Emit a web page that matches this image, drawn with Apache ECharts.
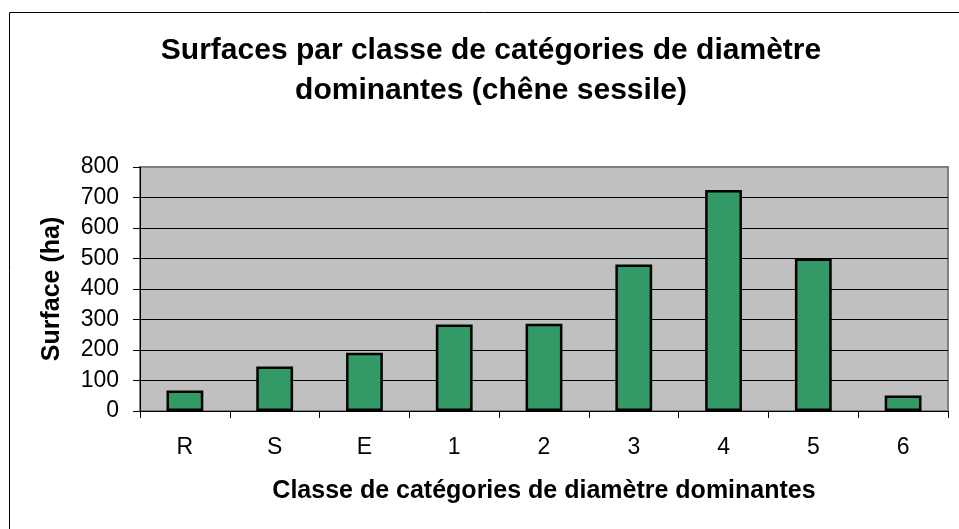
<!DOCTYPE html>
<html>
<head>
<meta charset="utf-8">
<script src="https://cdn.jsdelivr.net/npm/echarts@6/dist/echarts.min.js"></script>
<style>
  html, body { margin: 0; padding: 0; background: #fff; }
  #chart { width: 959px; height: 529px; }
</style>
</head>
<body>
<div id="chart"></div>
<script>
// Diameter classes (R, S, E, then 1 to 6)
var categories = ['R', 'S', 'E', '1', '2', '3', '4', '5', '6'];
// Area of each class, in hectares
var surfaces = [67, 146, 191, 284, 286, 480, 725, 500, 51];
// Value axis range
var yMin = 0, yMax = 800, yStep = 100;

var FONT = '"Liberation Sans", Arial, sans-serif';

var chart = echarts.init(document.getElementById('chart'), null, { renderer: 'canvas' });

// gridline colours: black inside, grey on the upper frame edge
var splitColors = [];
for (var v = yMin; v <= yMax; v += yStep) splitColors.push(v === yMax ? '#808080' : '#000000');

chart.setOption({
  backgroundColor: '#ffffff',
  animation: false,
  title: {
    text: 'Surfaces par classe de catégories de diamètre\ndominantes (chêne sessile)',
    left: 486,
    top: 26,
    textAlign: 'center',
    textStyle: {
      fontFamily: FONT,
      fontSize: 30,
      fontWeight: 'bold',
      color: '#000',
      lineHeight: 40
    }
  },
  graphic: [{
    type: 'rect',
    shape: { x: 9.5, y: 12.5, width: 1000, height: 600 },
    style: { fill: 'none', stroke: '#000', lineWidth: 1 },
    silent: true,
    z: -10
  }],
  grid: {
    left: 140,
    top: 167,
    width: 808,
    height: 244,
    show: true,
    backgroundColor: '#c0c0c0',
    borderColor: '#808080',
    borderWidth: 2
  },
  xAxis: {
    type: 'category',
    data: categories,
    name: 'Classe de catégories de diamètre dominantes',
    nameLocation: 'middle',
    nameGap: 68,
    nameTextStyle: { fontFamily: FONT, fontSize: 25, fontWeight: 'bold', color: '#000' },
    axisLine: { show: true, lineStyle: { color: '#000', width: 1 } },
    axisTick: { show: true, length: 7, alignWithLabel: false, lineStyle: { color: '#000' } },
    axisLabel: { fontFamily: FONT, fontSize: 23, color: '#000', margin: 25 },
    splitLine: { show: false }
  },
  yAxis: {
    type: 'value',
    min: yMin,
    max: yMax,
    interval: yStep,
    name: 'Surface (ha)',
    nameLocation: 'middle',
    nameGap: 75,
    nameTextStyle: { fontFamily: FONT, fontSize: 25, fontWeight: 'bold', color: '#000' },
    axisLine: { show: true, lineStyle: { color: '#000', width: 1 } },
    axisTick: { show: true, length: 7, lineStyle: { color: '#000' } },
    axisLabel: { fontFamily: FONT, fontSize: 23, color: '#000', margin: 21 },
    splitLine: { show: true, lineStyle: { color: splitColors, width: 1 } }
  },
  series: [{
    type: 'bar',
    data: surfaces,
    barWidth: '41%',
    itemStyle: { color: '#339966', borderColor: '#000', borderWidth: 2.5 }
  }]
});
</script>
</body>
</html>
